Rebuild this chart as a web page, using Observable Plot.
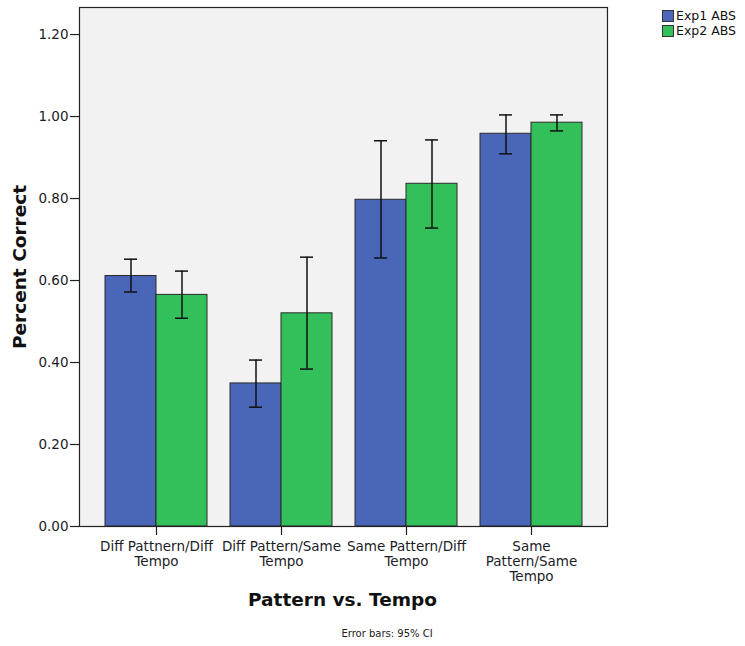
<!DOCTYPE html>
<html>
<head>
<meta charset="utf-8">
<script src="https://cdn.jsdelivr.net/npm/d3@7"></script>
<script src="https://cdn.jsdelivr.net/npm/@observablehq/plot@0.6"></script>
<style>
  html, body { margin: 0; padding: 0; background: #fff; }
  body { width: 745px; height: 646px; position: relative; overflow: hidden; font-family: "DejaVu Sans", sans-serif; }
  #chart { position: absolute; left: 0; top: 0; }
  #legend { position: absolute; left: 662px; top: 9px; font-size: 12.5px; color: #111; line-height: 14.5px; }
  #legend .item { display: flex; align-items: center; height: 14.5px; white-space: nowrap; }
  #legend .sw { width: 12px; height: 12px; border: 1px solid #333; box-sizing: border-box; margin-right: 2px; }
  #caption { position: absolute; left: 0; width: 774px; top: 628px; text-align: center; font-size: 10px; color: #222; }
</style>
</head>
<body>
<div id="chart"></div>
<div id="legend"></div>
<div id="caption">Error bars: 95% CI</div>
<script>
const categories = ["Diff Pattnern/Diff Tempo", "Diff Pattern/Same Tempo", "Same Pattern/Diff Tempo", "Same Pattern/Same Tempo"];
const tickLabels = ["Diff Pattnern/Diff\nTempo", "Diff Pattern/Same\nTempo", "Same Pattern/Diff\nTempo", "Same\nPattern/Same\nTempo"];
const series = ["Exp1 ABS", "Exp2 ABS"];
const colors = ["#4a66b8", "#33bf59"];
const exp1Mean = [0.611, 0.349, 0.797, 0.958];
const exp1Low  = [0.572, 0.291, 0.655, 0.909];
const exp1High = [0.652, 0.406, 0.941, 1.004];
const exp2Mean = [0.565, 0.520, 0.836, 0.985];
const exp2Low  = [0.508, 0.384, 0.728, 0.965];
const exp2High = [0.623, 0.657, 0.943, 1.004];
const yTicks = [0, 0.2, 0.4, 0.6, 0.8, 1.0, 1.2];

const W = 745, H = 646;
const mL = 79, mR = 138, mT = 7, mB = 120;
const padInner = 0.184, padOuter = 0.204;
const plotW = W - mL - mR;
const step = plotW / (categories.length - padInner + 2 * padOuter);
const half = step * (1 - padInner) / 2;   // width of one bar
const capHalf = 6.5;

const d1 = categories.map((c, i) => ({category: c, value: exp1Mean[i], lo: exp1Low[i], hi: exp1High[i]}));
const d2 = categories.map((c, i) => ({category: c, value: exp2Mean[i], lo: exp2Low[i], hi: exp2High[i]}));

const labelOf = new Map(categories.map((c, i) => [c, tickLabels[i]]));

function errMarks(data, side) {
  const off = side * half / 2;
  const inL = side < 0 ? half / 2 - capHalf : 1.5 * half - capHalf;
  const inR = side < 0 ? 1.5 * half - capHalf : half / 2 - capHalf;
  return [
    Plot.ruleX(data, {x: "category", y1: "lo", y2: "hi", dx: off, stroke: "#111", strokeWidth: 1.5}),
    Plot.tickY(data, {x: "category", y: "lo", insetLeft: inL, insetRight: inR, stroke: "#111", strokeWidth: 1.5}),
    Plot.tickY(data, {x: "category", y: "hi", insetLeft: inL, insetRight: inR, stroke: "#111", strokeWidth: 1.5})
  ];
}

const chart = Plot.plot({
  width: W,
  height: H,
  marginLeft: mL,
  marginRight: mR,
  marginTop: mT,
  marginBottom: mB,
  style: {fontFamily: "DejaVu Sans, sans-serif", background: "transparent", color: "#1c1c28"},
  x: {domain: categories, paddingInner: padInner, paddingOuter: padOuter, axis: null},
  y: {domain: [0, 1.266], axis: null},
  marks: [
    Plot.frame({fill: "#f2f2f2", stroke: "none"}),
    Plot.barY(d1, {x: "category", y: "value", fill: colors[0], stroke: "#2a2a2a", strokeWidth: 1, insetRight: half}),
    Plot.barY(d2, {x: "category", y: "value", fill: colors[1], stroke: "#2a2a2a", strokeWidth: 1, insetLeft: half}),
    ...errMarks(d1, -1),
    ...errMarks(d2, 1),
    Plot.frame({stroke: "#222", strokeWidth: 1.2}),
    Plot.axisY({ticks: yTicks, tickFormat: d3.format(".2f"), tickSize: 9, tickPadding: 2, fontSize: 13.5, label: null, stroke: "#222", strokeWidth: 1.2}),
    Plot.axisX({tickSize: 9, tickPadding: 5, fontSize: 13.5, lineHeight: 1.1, tickFormat: d => labelOf.get(d), label: null, stroke: "#222", strokeWidth: 1.2}),
    Plot.text(["Percent Correct"], {frameAnchor: "left", textAnchor: "middle", rotate: -90, dx: -59, fontSize: 18.5, fontWeight: "bold", fill: "#111"}),
    Plot.text(["Pattern vs. Tempo"], {frameAnchor: "bottom", textAnchor: "middle", dy: 79, dx: -1, fontSize: 18.5, fontWeight: "bold", fill: "#111"})
  ]
});
document.getElementById("chart").appendChild(chart);

const legend = document.getElementById("legend");
series.forEach((s, i) => {
  const item = document.createElement("div");
  item.className = "item";
  const sw = document.createElement("span");
  sw.className = "sw";
  sw.style.background = colors[i];
  const t = document.createElement("span");
  t.textContent = s;
  item.appendChild(sw);
  item.appendChild(t);
  legend.appendChild(item);
});
</script>
</body>
</html>
